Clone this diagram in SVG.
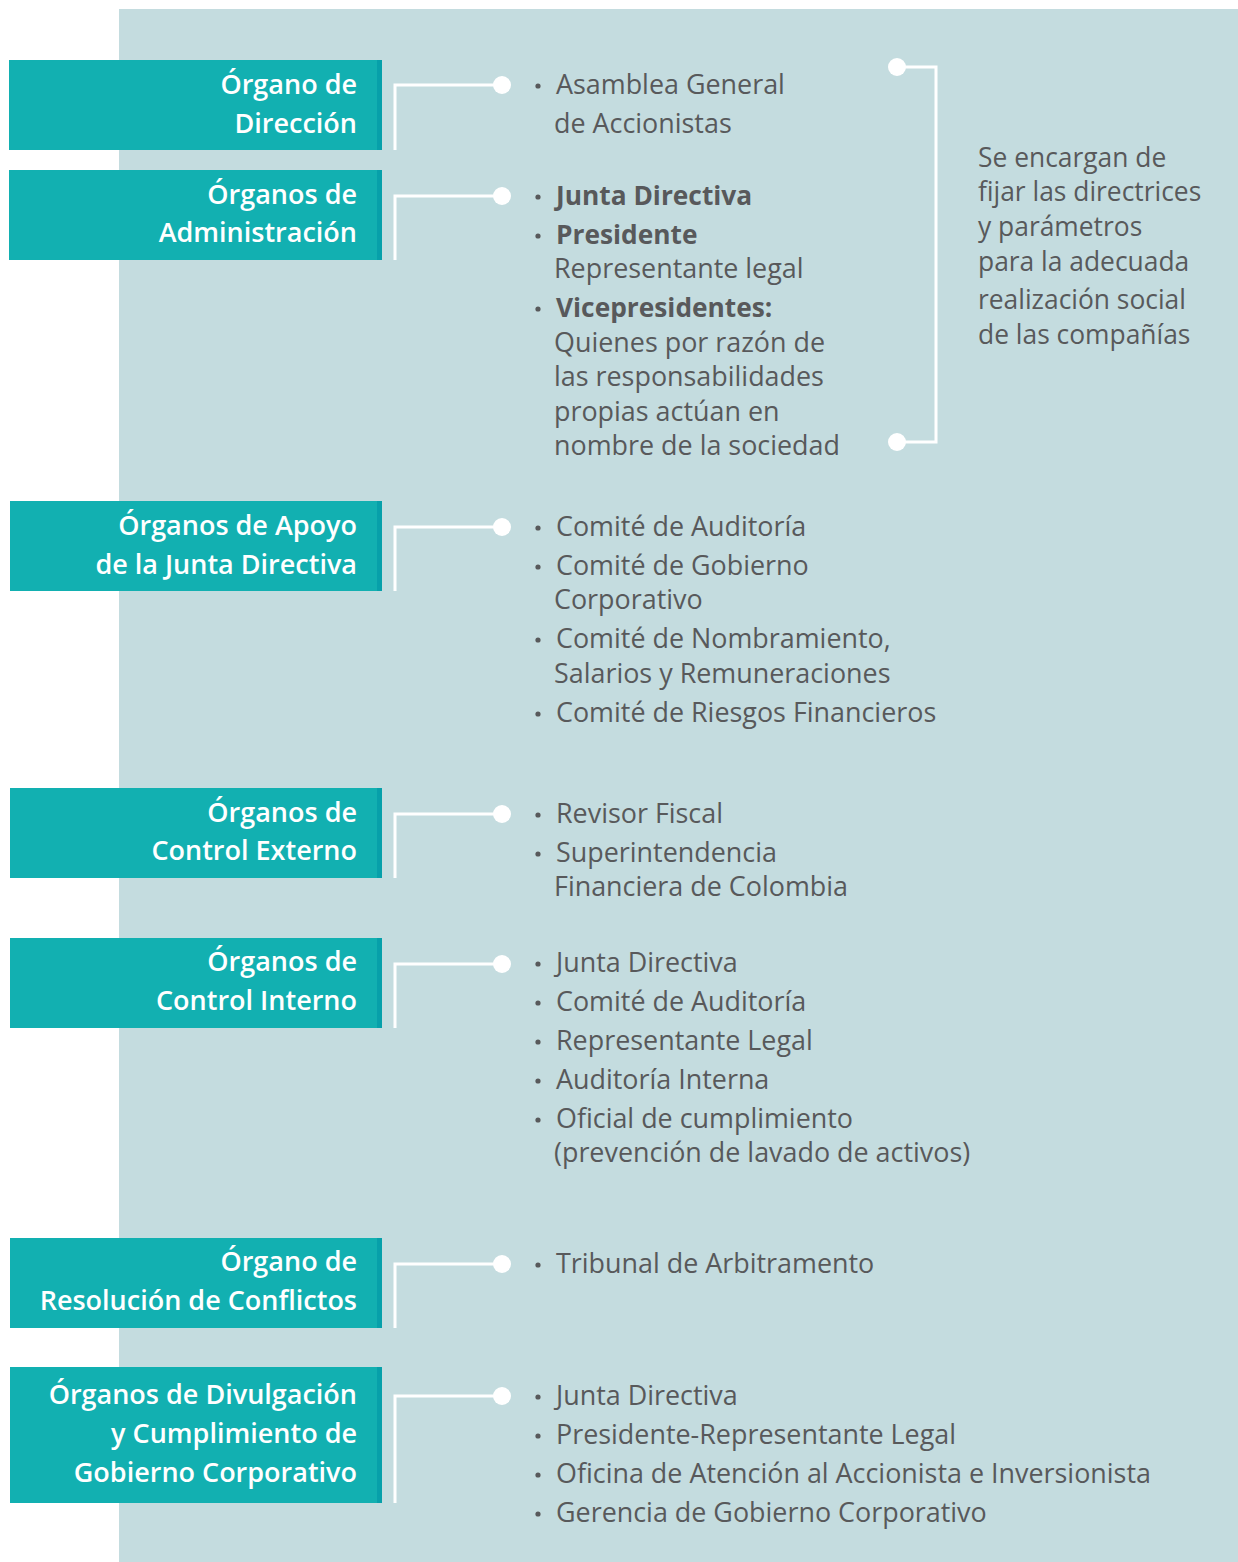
<svg xmlns="http://www.w3.org/2000/svg" width="1238" height="1562" viewBox="0 0 1238 1562">
<style>
.hd{font-family:"Open Sans","Noto Sans",sans-serif;font-weight:600;font-size:27px;fill:#ffffff;text-anchor:end}
.tx{font-family:"Open Sans","Noto Sans",sans-serif;font-size:26.9px;fill:#58595b}
.b{font-weight:700;font-size:26.3px}
.nt{font-size:26.4px}
.box{fill:#12b0b1}
.strip{fill:#07a0aa}
.ln{fill:none;stroke:#ffffff;stroke-width:3}
.dot{fill:#ffffff}
.bul{fill:#58595b}
</style>
<rect x="0" y="0" width="1238" height="1562" fill="#ffffff"/>
<rect x="119" y="9" width="1119" height="1553" fill="#c4dcdf"/>

<g id="connectors">
<polyline class="ln" points="395,150 395,85 502,85"/><circle class="dot" cx="502" cy="85" r="9"/>
<polyline class="ln" points="395,260 395,196 502,196"/><circle class="dot" cx="502" cy="196" r="9"/>
<polyline class="ln" points="395,591 395,527 502,527"/><circle class="dot" cx="502" cy="527" r="9"/>
<polyline class="ln" points="395,878 395,814 502,814"/><circle class="dot" cx="502" cy="814" r="9"/>
<polyline class="ln" points="395,1028 395,964 502,964"/><circle class="dot" cx="502" cy="964" r="9"/>
<polyline class="ln" points="395,1328 395,1264 502,1264"/><circle class="dot" cx="502" cy="1264" r="9"/>
<polyline class="ln" points="395,1503 395,1396 502,1396"/><circle class="dot" cx="502" cy="1396" r="9"/>
<polyline class="ln" points="897,67 936,67 936,442 897,442"/>
<circle class="dot" cx="897" cy="67" r="9"/><circle class="dot" cx="897" cy="442" r="9"/>
</g>

<g id="node1">
<rect class="box" x="9" y="60" width="373" height="90"/><rect class="strip" x="377" y="60" width="5" height="90"/>
<text class="hd" x="357" y="94">Órgano de</text>
<text class="hd" x="357" y="133">Dirección</text>
</g>
<g id="node2">
<rect class="box" x="9" y="170" width="373" height="90"/><rect class="strip" x="377" y="170" width="5" height="90"/>
<text class="hd" x="357" y="204">Órganos de</text>
<text class="hd" x="357" y="242">Administración</text>
</g>
<g id="node3">
<rect class="box" x="10" y="501" width="372" height="90"/><rect class="strip" x="377" y="501" width="5" height="90"/>
<text class="hd" x="357" y="535">Órganos de Apoyo</text>
<text class="hd" x="357" y="574">de la Junta Directiva</text>
</g>
<g id="node4">
<rect class="box" x="10" y="788" width="372" height="90"/><rect class="strip" x="377" y="788" width="5" height="90"/>
<text class="hd" x="357" y="822">Órganos de</text>
<text class="hd" x="357" y="860">Control Externo</text>
</g>
<g id="node5">
<rect class="box" x="10" y="938" width="372" height="90"/><rect class="strip" x="377" y="938" width="5" height="90"/>
<text class="hd" x="357" y="971">Órganos de</text>
<text class="hd" x="357" y="1010">Control Interno</text>
</g>
<g id="node6">
<rect class="box" x="10" y="1238" width="372" height="90"/><rect class="strip" x="377" y="1238" width="5" height="90"/>
<text class="hd" x="357" y="1271">Órgano de</text>
<text class="hd" x="357" y="1310">Resolución de Conflictos</text>
</g>
<g id="node7">
<rect class="box" x="10" y="1367" width="372" height="136"/><rect class="strip" x="377" y="1367" width="5" height="136"/>
<text class="hd" x="357" y="1404">Órganos de Divulgación</text>
<text class="hd" x="357" y="1443">y Cumplimiento de</text>
<text class="hd" x="357" y="1482">Gobierno Corporativo</text>
</g>

<g id="list1">
<circle class="bul" cx="538" cy="86" r="2.6"/>
<text class="tx" x="556" y="94">Asamblea General</text>
<text class="tx" x="554" y="133">de Accionistas</text>
</g>
<g id="list2">
<circle class="bul" cx="538" cy="197" r="2.6"/>
<text class="tx b" x="556" y="205">Junta Directiva</text>
<circle class="bul" cx="538" cy="236" r="2.6"/>
<text class="tx b" x="556" y="244">Presidente</text>
<text class="tx" x="554" y="278">Representante legal</text>
<circle class="bul" cx="538" cy="309" r="2.6"/>
<text class="tx b" x="556" y="317">Vicepresidentes:</text>
<text class="tx" x="554" y="352">Quienes por razón de</text>
<text class="tx" x="554" y="386">las responsabilidades</text>
<text class="tx" x="554" y="421">propias actúan en</text>
<text class="tx" x="554" y="455">nombre de la sociedad</text>
</g>
<g id="list3">
<circle class="bul" cx="538" cy="528" r="2.6"/>
<text class="tx" x="556" y="536">Comité de Auditoría</text>
<circle class="bul" cx="538" cy="567" r="2.6"/>
<text class="tx" x="556" y="575">Comité de Gobierno</text>
<text class="tx" x="554" y="609">Corporativo</text>
<circle class="bul" cx="538" cy="640" r="2.6"/>
<text class="tx" x="556" y="648">Comité de Nombramiento,</text>
<text class="tx" x="554" y="683">Salarios y Remuneraciones</text>
<circle class="bul" cx="538" cy="714" r="2.6"/>
<text class="tx" x="556" y="722">Comité de Riesgos Financieros</text>
</g>
<g id="list4">
<circle class="bul" cx="538" cy="815" r="2.6"/>
<text class="tx" x="556" y="823">Revisor Fiscal</text>
<circle class="bul" cx="538" cy="854" r="2.6"/>
<text class="tx" x="556" y="862">Superintendencia</text>
<text class="tx" x="554" y="896">Financiera de Colombia</text>
</g>
<g id="list5">
<circle class="bul" cx="538" cy="964" r="2.6"/>
<text class="tx" x="556" y="972">Junta Directiva</text>
<circle class="bul" cx="538" cy="1003" r="2.6"/>
<text class="tx" x="556" y="1011">Comité de Auditoría</text>
<circle class="bul" cx="538" cy="1042" r="2.6"/>
<text class="tx" x="556" y="1050">Representante Legal</text>
<circle class="bul" cx="538" cy="1081" r="2.6"/>
<text class="tx" x="556" y="1089">Auditoría Interna</text>
<circle class="bul" cx="538" cy="1120" r="2.6"/>
<text class="tx" x="556" y="1128">Oficial de cumplimiento</text>
<text class="tx" x="554" y="1162">(prevención de lavado de activos)</text>
</g>
<g id="list6">
<circle class="bul" cx="538" cy="1265" r="2.6"/>
<text class="tx" x="556" y="1273">Tribunal de Arbitramento</text>
</g>
<g id="list7">
<circle class="bul" cx="538" cy="1397" r="2.6"/>
<text class="tx" x="556" y="1405">Junta Directiva</text>
<circle class="bul" cx="538" cy="1436" r="2.6"/>
<text class="tx" x="556" y="1444">Presidente-Representante Legal</text>
<circle class="bul" cx="538" cy="1475" r="2.6"/>
<text class="tx" x="556" y="1483">Oficina de Atención al Accionista e Inversionista</text>
<circle class="bul" cx="538" cy="1514" r="2.6"/>
<text class="tx" x="556" y="1522">Gerencia de Gobierno Corporativo</text>
</g>
<g id="note">
<text class="tx nt" x="978" y="167">Se encargan de</text>
<text class="tx nt" x="978" y="201">fijar las directrices</text>
<text class="tx nt" x="978" y="236">y parámetros</text>
<text class="tx nt" x="978" y="271">para la adecuada</text>
<text class="tx nt" x="978" y="309">realización social</text>
<text class="tx nt" x="978" y="344">de las compañías</text>
</g>
</svg>
